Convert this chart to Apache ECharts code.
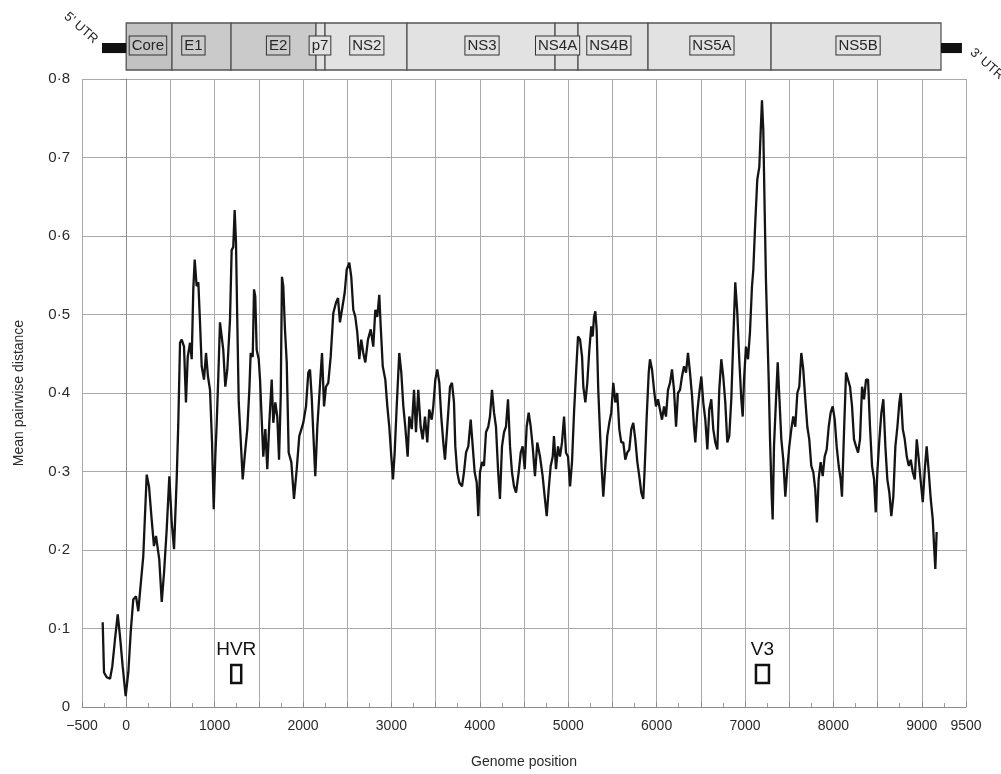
<!DOCTYPE html>
<html>
<head>
<meta charset="utf-8">
<title>Mean pairwise distance along the genome</title>
<script src="https://cdn.jsdelivr.net/npm/echarts@6/dist/echarts.min.js"></script>
<style>
  html, body { margin: 0; padding: 0; background: #fff; }
  #chart { width: 1001px; height: 774px; }
</style>
</head>
<body>
<div id="chart"></div>
<script>
// Sliding-window mean pairwise distance: genome position (nt) and distance value.
const positions = [
  -266, -251, -221, -183, -157, -127, -96, -70, -40, -6, 24, 51, 80, 111, 137, 156, 193, 232, 258, 288,
  314, 337, 374, 402, 428, 458, 488, 515, 541, 571, 589, 609,
  628, 654, 676, 696, 722, 741, 759, 775, 797, 816, 835, 854, 880, 903, 925, 948, 971, 990,
  1008, 1024, 1042, 1061, 1080, 1098, 1121, 1144, 1174, 1193, 1211, 1227, 1242, 1257, 1273, 1295, 1318, 1344, 1370, 1393,
  1408, 1431, 1446, 1460, 1476, 1499, 1514, 1533, 1551, 1574, 1596, 1619, 1646, 1664, 1687, 1709, 1729, 1748, 1762, 1777,
  1796, 1816, 1838, 1868, 1898, 1929, 1958,
  2003, 2034, 2060, 2079, 2098, 2116, 2139, 2162, 2184, 2215, 2238, 2260, 2286, 2313, 2343, 2373, 2396, 2418, 2441, 2472,
  2494, 2524, 2546, 2569, 2592, 2614, 2637, 2659, 2682, 2705, 2735, 2766, 2795, 2818, 2840, 2863, 2879, 2902, 2931, 2954,
  2976, 2999, 3018, 3037, 3060, 3089, 3112, 3135, 3157, 3184, 3202, 3230, 3256, 3278, 3304, 3331, 3354, 3380, 3406, 3428,
  3456, 3474, 3497, 3519, 3542, 3564, 3587, 3606, 3632, 3663, 3685, 3708, 3723, 3745, 3768, 3799, 3821, 3844, 3870, 3897,
  3920, 3942, 3965, 3983, 4002, 4025, 4047, 4070, 4096, 4115, 4138, 4161, 4183, 4206, 4228, 4251, 4274, 4296, 4319, 4342,
  4364, 4387, 4410, 4440, 4463, 4485, 4508, 4530, 4553, 4576,
  4598, 4624, 4650, 4681, 4711, 4734, 4757, 4779, 4802, 4825, 4839, 4862, 4885, 4907, 4930, 4953, 4975, 4998, 5021, 5043,
  5066, 5089, 5111, 5134, 5157, 5171, 5194, 5216, 5239, 5261, 5277, 5292, 5307, 5322, 5340, 5360, 5379, 5397, 5420, 5442,
  5465, 5487, 5510, 5533, 5555, 5578, 5600, 5623, 5646, 5668, 5691, 5714, 5736, 5759, 5782, 5804, 5827, 5849, 5865, 5888,
  5911, 5925, 5948, 5971, 5993, 6016, 6038, 6061, 6084, 6106, 6129, 6152, 6174, 6197, 6220, 6242, 6265, 6287, 6310, 6333,
  6355, 6378, 6401, 6423, 6438, 6460, 6483, 6506, 6528, 6551, 6574, 6596, 6619, 6641, 6664, 6687, 6709, 6732, 6754, 6777,
  6800, 6822, 6845, 6868, 6890,
  6913, 6935, 6958, 6974, 6989, 7011, 7034, 7056, 7079, 7094, 7116, 7139, 7162, 7178, 7192, 7207, 7223, 7237, 7252, 7268,
  7283, 7302, 7313, 7328, 7351, 7370, 7388, 7411, 7433, 7456, 7478, 7501, 7524, 7546, 7569, 7592, 7614, 7637, 7659, 7682,
  7705, 7727, 7750, 7773, 7795, 7814, 7833, 7856, 7879, 7901, 7924, 7947, 7969, 7992, 8015, 8037, 8060, 8082, 8097, 8120,
  8143, 8165, 8188, 8211, 8233, 8256, 8279, 8301, 8324, 8347, 8369, 8392, 8414, 8437, 8460, 8479, 8497, 8520, 8543, 8565,
  8588, 8610, 8633, 8655, 8678, 8701, 8724, 8746, 8762, 8785, 8807, 8830, 8853, 8875, 8898, 8921, 8943, 8966, 8989, 9011,
  9034, 9055, 9079, 9101, 9124, 9139, 9153, 9168
];
const distances = [
  0.108, 0.044, 0.038, 0.036, 0.052, 0.086, 0.118, 0.090, 0.052, 0.014, 0.044, 0.095, 0.137, 0.141, 0.122, 0.146, 0.192, 0.296, 0.281, 0.239,
  0.205, 0.218, 0.188, 0.134, 0.171, 0.226, 0.294, 0.235, 0.201, 0.290, 0.360, 0.464,
  0.468, 0.459, 0.388, 0.446, 0.464, 0.443, 0.532, 0.570, 0.536, 0.541, 0.490, 0.434, 0.417, 0.451, 0.421, 0.404, 0.337, 0.252,
  0.319, 0.362, 0.421, 0.490, 0.472, 0.455, 0.408, 0.430, 0.493, 0.582, 0.586, 0.633, 0.591, 0.490, 0.388, 0.341, 0.290, 0.324, 0.354, 0.404,
  0.451, 0.446, 0.532, 0.523, 0.455, 0.443, 0.417, 0.366, 0.319, 0.354, 0.303, 0.362, 0.417, 0.362, 0.388, 0.370, 0.315, 0.396, 0.548, 0.536,
  0.481, 0.439, 0.324, 0.312, 0.265, 0.303, 0.345,
  0.362, 0.383, 0.426, 0.430, 0.396, 0.350, 0.294, 0.357, 0.396, 0.451, 0.383, 0.408, 0.413, 0.446, 0.502, 0.515, 0.521, 0.490, 0.506, 0.528,
  0.557, 0.566, 0.548, 0.506, 0.497, 0.477, 0.443, 0.468, 0.451, 0.439, 0.468, 0.481, 0.459, 0.506, 0.497, 0.525, 0.485, 0.434, 0.417, 0.383,
  0.357, 0.319, 0.290, 0.324, 0.383, 0.451, 0.426, 0.383, 0.357, 0.319, 0.370, 0.354, 0.404, 0.350, 0.404, 0.357, 0.341, 0.370, 0.337, 0.379,
  0.366, 0.383, 0.417, 0.430, 0.413, 0.370, 0.337, 0.315, 0.357, 0.408, 0.413, 0.388, 0.332, 0.299, 0.286, 0.281, 0.299, 0.324, 0.332, 0.366,
  0.332, 0.299, 0.286, 0.243, 0.299, 0.312, 0.307, 0.350, 0.357, 0.370, 0.404, 0.375, 0.357, 0.303, 0.265, 0.332, 0.350, 0.357, 0.392, 0.332,
  0.299, 0.281, 0.273, 0.299, 0.324, 0.332, 0.303, 0.357, 0.375, 0.357,
  0.332, 0.294, 0.337, 0.319, 0.294, 0.268, 0.243, 0.277, 0.307, 0.319, 0.345, 0.303, 0.332, 0.319, 0.337, 0.370, 0.324, 0.319, 0.281, 0.312,
  0.375, 0.426, 0.472, 0.468, 0.446, 0.408, 0.388, 0.413, 0.455, 0.485, 0.472, 0.497, 0.504, 0.481, 0.404, 0.350, 0.303, 0.268, 0.307, 0.345,
  0.362, 0.375, 0.413, 0.388, 0.400, 0.354, 0.337, 0.337, 0.315, 0.324, 0.328, 0.354, 0.362, 0.341, 0.312, 0.294, 0.273, 0.265, 0.303, 0.370,
  0.426, 0.443, 0.430, 0.404, 0.383, 0.392, 0.379, 0.366, 0.383, 0.370, 0.404, 0.413, 0.430, 0.404, 0.357, 0.400, 0.404, 0.421, 0.434, 0.426,
  0.451, 0.426, 0.396, 0.357, 0.337, 0.375, 0.400, 0.421, 0.388, 0.366, 0.328, 0.379, 0.392, 0.354, 0.337, 0.328, 0.404, 0.443, 0.421, 0.388,
  0.337, 0.345, 0.392, 0.470, 0.541,
  0.502, 0.443, 0.392, 0.370, 0.417, 0.459, 0.443, 0.477, 0.536, 0.557, 0.617, 0.672, 0.688, 0.735, 0.773, 0.735, 0.630, 0.544, 0.481, 0.417,
  0.341, 0.268, 0.239, 0.332, 0.392, 0.439, 0.396, 0.341, 0.315, 0.268, 0.303, 0.332, 0.354, 0.370, 0.357, 0.400, 0.408, 0.451, 0.430, 0.392,
  0.357, 0.341, 0.307, 0.299, 0.277, 0.235, 0.290, 0.312, 0.294, 0.319, 0.328, 0.357, 0.375, 0.383, 0.366, 0.332, 0.307, 0.290, 0.268, 0.350,
  0.426, 0.426, 0.408, 0.383, 0.341, 0.332, 0.324, 0.341, 0.408, 0.392, 0.417, 0.417, 0.357, 0.307, 0.290, 0.248, 0.299, 0.341, 0.375, 0.392,
  0.332, 0.290, 0.273, 0.243, 0.268, 0.332, 0.357, 0.388, 0.400, 0.354, 0.341, 0.319, 0.307, 0.315, 0.299, 0.290, 0.341, 0.315, 0.286, 0.261,
  0.303, 0.332, 0.299, 0.265, 0.239, 0.205, 0.176, 0.223
];

// Genome map: coding regions (nt) shown above the plot.
const regionNames  = ['Core', 'E1', 'E2', 'p7', 'NS2', 'NS3', 'NS4A', 'NS4B', 'NS5A', 'NS5B'];
const regionStarts = [0, 518, 1186, 2147, 2249, 3176, 4851, 5111, 5903, 7295];
const regionEnds   = [518, 1186, 2147, 2249, 3176, 4851, 5111, 5903, 7295, 9217];
const regionLabelAt = [246, 760, 1718, 2192, 2722, 4025, 4880, 5460, 6626, 8279];
const utrNames  = ["5' UTR", "3' UTR"];
const utrStarts = [-274, 9217];
const utrEnds   = [0, 9454];

// Hypervariable regions marked near the axis.
const markerNames  = ['HVR', 'V3'];
const markerStarts = [1188, 7124];
const markerEnds   = [1301, 7271];
const markerLow  = 0.0305;
const markerHigh = 0.0534;

// Axis tick labels.
const xTickLabels = [-500, 0, 1000, 2000, 3000, 4000, 5000, 6000, 7000, 8000, 9000, 9500];
const yTickLabels = ['0', '0·1', '0·2', '0·3', '0·4', '0·5', '0·6', '0·7', '0·8'];

const FONT = "'Liberation Sans', Arial, Helvetica, sans-serif";
const regionFills = ['#c2c2c2', '#cacaca', '#cacaca', '#e2e2e2', '#e2e2e2', '#e2e2e2', '#e2e2e2', '#e2e2e2', '#e2e2e2', '#e2e2e2'];
const gridColor = '#a9a9a9';

const lineData = positions.map((p, i) => [p, distances[i]]);
const regionData = regionNames.map((n, i) => [regionStarts[i], regionEnds[i], regionLabelAt[i], i]);
const utrData = utrNames.map((n, i) => [utrStarts[i], utrEnds[i], i]);
const markerData = markerNames.map((n, i) => [markerStarts[i], markerEnds[i], i]);

const chart = echarts.init(document.getElementById('chart'), null, { renderer: 'canvas' });

const option = {
  animation: false,
  backgroundColor: '#ffffff',
  grid: [
    { left: 82, right: 35, top: 79, bottom: 66 },
    { left: 82, right: 35, top: 23, height: 47 }
  ],
  xAxis: [
    {
      type: 'value', gridIndex: 0, min: -500, max: 9500, interval: 500,
      name: 'Genome position', nameLocation: 'middle', nameGap: 48,
      nameTextStyle: { fontFamily: FONT, fontSize: 14, color: '#2a2a2a' },
      axisLine: { show: true, onZero: false, lineStyle: { color: '#8c8c8c', width: 1 } },
      axisTick: { show: true, inside: true, length: 5, lineStyle: { color: '#8c8c8c' } },
      minorTick: { show: true, splitNumber: 2, length: 4, lineStyle: { color: '#9a9a9a' } },
      splitLine: { show: true, lineStyle: { color: gridColor, width: 1 } },
      axisLabel: {
        margin: 12, fontFamily: FONT, fontSize: 14, color: '#2a2a2a',
        showMinLabel: true, showMaxLabel: true,
        formatter: v => xTickLabels.includes(v) ? String(v).replace('-', '\u2212') : ''
      }
    },
    { type: 'value', gridIndex: 1, min: -500, max: 9500, show: false }
  ],
  yAxis: [
    {
      type: 'value', gridIndex: 0, min: 0, max: 0.8, interval: 0.1,
      name: 'Mean pairwise distance', nameLocation: 'middle', nameGap: 56,
      nameTextStyle: { fontFamily: FONT, fontSize: 14, color: '#2a2a2a' },
      axisLine: { show: true, lineStyle: { color: '#8c8c8c', width: 1 } },
      axisTick: { show: true, length: 6, lineStyle: { color: '#9a9a9a' } },
      splitLine: { show: true, lineStyle: { color: gridColor, width: 1 } },
      axisLabel: {
        margin: 12, fontFamily: FONT, fontSize: 15, color: '#2a2a2a',
        formatter: v => yTickLabels[Math.round(v * 10)]
      }
    },
    { type: 'value', gridIndex: 1, min: 0, max: 1, show: false }
  ],
  series: [
    {
      name: 'Mean pairwise distance',
      type: 'line',
      xAxisIndex: 0, yAxisIndex: 0,
      data: lineData,
      showSymbol: false,
      symbol: 'none',
      lineStyle: { color: '#141414', width: 2.3 },
      z: 5
    },
    {
      name: 'Genome map',
      type: 'custom',
      xAxisIndex: 1, yAxisIndex: 1,
      data: regionData,
      clip: false,
      renderItem: (params, api) => {
        const i = api.value(3);
        const p0 = api.coord([api.value(0), 0]);
        const p1 = api.coord([api.value(1), 1]);
        const lp = api.coord([api.value(2), 0.5]);
        return {
          type: 'group',
          children: [
            {
              type: 'rect',
              shape: { x: p0[0], y: p1[1], width: p1[0] - p0[0], height: p0[1] - p1[1] },
              style: { fill: regionFills[i], stroke: '#555', lineWidth: 1.3 }
            },
            {
              type: 'text', x: lp[0], y: lp[1] - 1, z2: 20,
              style: {
                text: regionNames[i], align: 'center', verticalAlign: 'middle',
                font: '15px ' + FONT, fill: '#262626',
                backgroundColor: regionFills[i], borderColor: '#333', borderWidth: 1,
                padding: [2, 2, 1, 2]
              }
            }
          ]
        };
      }
    },
    {
      name: 'UTR',
      type: 'custom',
      xAxisIndex: 1, yAxisIndex: 1,
      data: utrData,
      clip: false,
      renderItem: (params, api) => {
        const side = api.value(2);
        const a = api.coord([api.value(0), 0.575]);
        const b = api.coord([api.value(1), 0.36]);
        const mid = (a[1] + b[1]) / 2;
        const tx = side === 0 ? a[0] - 21 : b[0] + 25;
        const ty = side === 0 ? mid - 20 : mid + 16;
        return {
          type: 'group',
          children: [
            {
              type: 'rect',
              shape: { x: a[0], y: a[1], width: b[0] - a[0], height: b[1] - a[1] },
              style: { fill: '#111' }
            },
            {
              type: 'text', x: tx, y: ty, rotation: -0.72,
              style: {
                text: utrNames[side], align: 'center', verticalAlign: 'middle',
                font: '13px ' + FONT, fill: '#222'
              }
            }
          ]
        };
      }
    },
    {
      name: 'Variable regions',
      type: 'custom',
      xAxisIndex: 0, yAxisIndex: 0,
      data: markerData,
      clip: false,
      z: 6,
      renderItem: (params, api) => {
        const i = api.value(2);
        const a = api.coord([api.value(0), markerHigh]);
        const b = api.coord([api.value(1), markerLow]);
        return {
          type: 'group',
          children: [
            {
              type: 'rect',
              shape: { x: a[0], y: a[1], width: b[0] - a[0], height: b[1] - a[1] },
              style: { fill: '#fff', stroke: '#111', lineWidth: 2.5 }
            },
            {
              type: 'text', x: (a[0] + b[0]) / 2, y: a[1] - 6,
              style: {
                text: markerNames[i], align: 'center', verticalAlign: 'bottom',
                font: '19px ' + FONT, fill: '#111'
              }
            }
          ]
        };
      }
    }
  ]
};

chart.setOption(option);
</script>
</body>
</html>
